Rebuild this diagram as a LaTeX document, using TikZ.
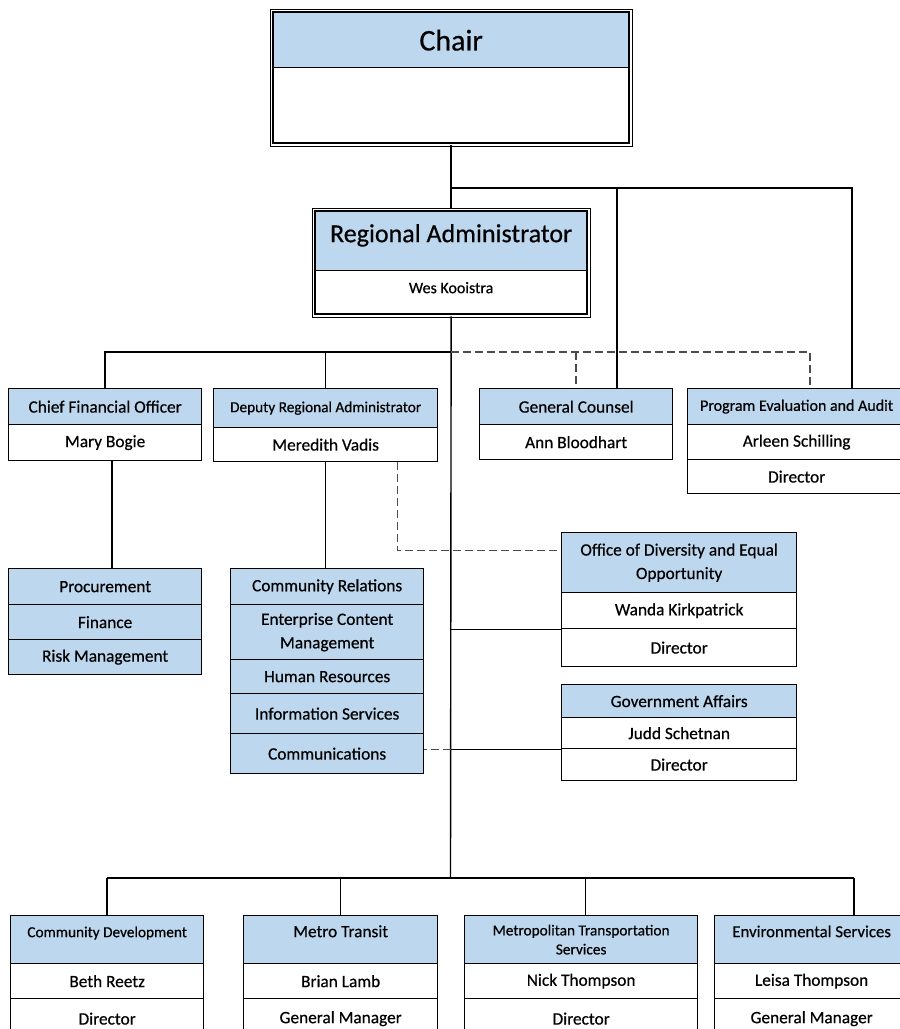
\documentclass[tikz,border=0pt]{standalone}
\usepackage{fontspec}
\setmainfont{Carlito}[FakeBold=0.5]
\usetikzlibrary{fit}
\definecolor{hdrblue}{RGB}{189,215,238}
\tikzset{
  wh/.style 2 args={minimum width=#1pt, minimum height=#2pt},
  cell/.style={draw=black, line width=1.3pt, fill=white, inner sep=0pt, anchor=north west, align=center, font=\fontsize{17.3}{23.5}\selectfont},
  hdr/.style={cell, fill=hdrblue},
  smallfont/.style={font=\fontsize{15.3}{19}\selectfont},
  toptext/.style={text height=10pt, text depth=15pt},
  conn/.style={line width=1.4pt, draw=black},
  dconn/.style={line width=1.4pt, draw=black!70, dash pattern=on 8pt off 4pt},
  frame/.style={draw=black, double=white, double distance=1.6pt, line width=1.1pt, inner sep=1.6pt},
}
\begin{document}
\begin{tikzpicture}[x=1pt, y=-1pt]
\useasboundingbox (0,0) rectangle (900,1029);
\clip (0,0) rectangle (900,1029);
\fill[white] (0,0) rectangle (900,1029);

% Chair
\node[hdr, wh={355}{55}, font=\fontsize{30}{32}\selectfont] (chairH) at (273,12) {Chair};
\node[cell, wh={355}{75}] (chairB) at (273,67) {};
\node[frame, fit=(chairH)(chairB)] (chair) {};

% Regional Administrator
\node[hdr, wh={271}{59}, font=\fontsize{26}{28}\selectfont, text height=17pt, text depth=15pt] (raH) at (315,211) {Regional Administrator};
\node[cell, wh={271}{43}, font=\fontsize{16}{20}\selectfont, text height=10pt, text depth=8pt] (raN) at (315,270) {Wes Kooistra};
\node[frame, fit=(raH)(raN)] (ra) {};

% second row
\node[hdr, wh={193}{36}] (cfoH) at (8,388) {Chief Financial Officer};
\node[cell, wh={193}{36}] (cfoN) at (8,424) {Mary Bogie};

\node[hdr, wh={224}{39}, smallfont] (draH) at (213,388) {Deputy Regional Administrator};
\node[cell, wh={224}{34}] (draN) at (213,427) {Meredith Vadis};

\node[hdr, wh={193}{36}] (gcH) at (479,388) {General Counsel};
\node[cell, wh={193}{35}] (gcN) at (479,424) {Ann Bloodhart};

\node[hdr, wh={218}{36}, font=\fontsize{16}{20}\selectfont] (peaH) at (687,388) {Program Evaluation and Audit};
\node[cell, wh={218}{35}] (peaN) at (687,424) {Arleen Schilling};
\node[cell, wh={218}{34}] (peaD) at (687,459) {Director};

% CFO group
\node[hdr, wh={193}{36}] (procA) at (8,568) {Procurement};
\node[hdr, wh={193}{35}] (procB) at (8,604) {Finance};
\node[hdr, wh={193}{35}] (procC) at (8,639) {Risk Management};

% DRA group
\node[hdr, wh={193}{36}] (crA) at (230,568) {Community Relations};
\node[hdr, wh={193}{55}] (ecm) at (230,604) {Enterprise Content\\Management};
\node[hdr, wh={193}{34}] (hr) at (230,659) {Human Resources};
\node[hdr, wh={193}{40}] (is) at (230,693) {Information Services};
\node[hdr, wh={193}{40}] (comm) at (230,733) {Communications};

% Office of Diversity
\node[hdr, wh={235}{60}] (odeoH) at (561,532) {Office of Diversity and Equal\\Opportunity};
\node[cell, wh={235}{36}] (odeoN) at (561,592) {Wanda Kirkpatrick};
\node[cell, wh={235}{38}] (odeoD) at (561,628) {Director};

% Government Affairs
\node[hdr, wh={235}{33}] (gaH) at (561,684) {Government Affairs};
\node[cell, wh={235}{31}] (gaN) at (561,717) {Judd Schetnan};
\node[cell, wh={235}{32}] (gaD) at (561,748) {Director};

% bottom row
\node[hdr, wh={193}{48}, smallfont, toptext] (cdH) at (10,915) {Community Development};
\node[cell, wh={193}{35}] (cdN) at (10,963) {Beth Reetz};
\node[cell, wh={193}{40}] (cdD) at (10,998) {Director};

\node[hdr, wh={194}{48}, toptext] (mtH) at (243,915) {Metro Transit};
\node[cell, wh={194}{35}] (mtN) at (243,963) {Brian Lamb};
\node[cell, wh={194}{40}] (mtD) at (243,998) {General Manager};

\node[hdr, wh={233}{48}, smallfont] (mtsH) at (464,915) {Metropolitan Transportation\\Services};
\node[cell, wh={233}{35}] (mtsN) at (464,963) {Nick Thompson};
\node[cell, wh={233}{40}] (mtsD) at (464,998) {Director};

\node[hdr, wh={194}{48}, toptext, font=\fontsize{16.8}{20}\selectfont] (esH) at (714,915) {Environmental Services};
\node[cell, wh={194}{35}] (esN) at (714,963) {Leisa Thompson};
\node[cell, wh={194}{40}] (esD) at (714,998) {General Manager};

% connector coordinates
\coordinate (b1) at (450.5,188);
\coordinate (b2) at (450.5,352);
\coordinate (busBot) at (450.5,878);
\coordinate (gcDrop) at ([xshift=138pt]gcH.north west);
\coordinate (peaDrop) at ([xshift=165pt]peaH.north west);
\coordinate (peaDash) at ([xshift=123pt]peaH.north west);
\coordinate (cfoDrop) at ([xshift=7pt]cfoN.south);
\coordinate (draDash) at ([xshift=72pt]draN.south);
\coordinate (mtsDrop) at ([xshift=4.5pt]mtsH.north);
\coordinate (esDrop) at ([xshift=140pt]esH.north west);

% connectors from Chair
\draw[conn] (chair.south) -- (ra.north);
\draw[conn] (b1) -| (peaDrop);
\draw[conn] (b1 -| gcDrop) -- (gcDrop);

% RA trunk
\draw[conn] (ra.south) -- (busBot);
\draw[conn] (b2) -| (cfoH.north);
\draw[conn] (b2 -| draH.north) -- (draH.north);
\draw[dconn] (b2) -| (peaDash);
\draw[dconn] (b2 -| gcH.north) -- (gcH.north);

% sub groups
\draw[conn] (cfoDrop) -- (cfoDrop |- procA.north);
\draw[conn] (draN.south) -- (draN.south |- crA.north);
\draw[dconn] (draDash) |- ([yshift=12pt]odeoH.west);
\draw[conn] (odeoN.south west) -- (odeoN.south west -| ra.south);
\draw[conn] (gaN.south west) -- (gaN.south west -| ra.south);
\draw[dconn] (gaN.south west -| ra.south) -- (gaN.south west -| comm.east);

% bottom bus
\draw[conn] (cdH.north |- busBot) -- (esDrop |- busBot);
\draw[conn] (cdH.north |- busBot) -- (cdH.north);
\draw[conn] (mtH.north |- busBot) -- (mtH.north);
\draw[conn] (mtsDrop |- busBot) -- (mtsDrop);
\draw[conn] (esDrop |- busBot) -- (esDrop);
\end{tikzpicture}
\end{document}
